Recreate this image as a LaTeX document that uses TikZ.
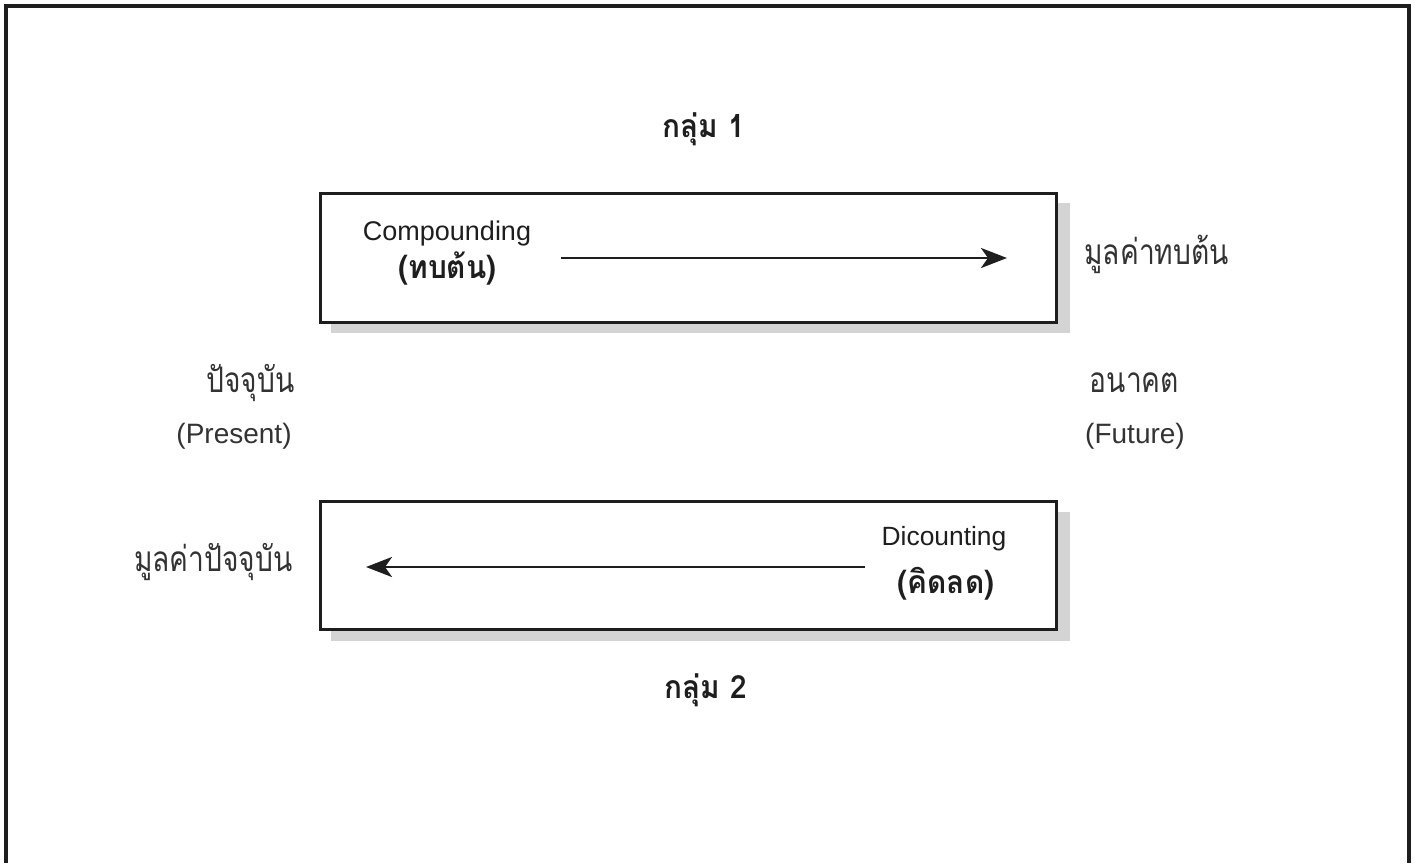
\documentclass[tikz,border=0pt]{standalone}
\usepackage{fontspec}
\setmainfont{Liberation Sans}
\newfontfamily\thai[Script=Thai, FakeStretch=0.8, BoldFeatures={FakeStretch=0.93}]{Loma}
\usetikzlibrary{arrows.meta}
\definecolor{shade}{HTML}{D4D4D4}
\definecolor{ink}{HTML}{1E1E1E}
\definecolor{soft}{HTML}{333333}
\tikzset{
  frame/.style={line width=2pt, draw=ink},
  panel/.style={line width=1.7pt, draw=ink, fill=white},
  panelshadow/.style={fill=shade, draw=none},
  flow/.style={line width=1.4pt, draw=ink, -{Stealth[length=13pt, width=10pt, inset=3.5pt]}},
  head/.style={inner sep=0pt, text=ink, font=\fontsize{13.5}{16}\selectfont},
  headth/.style={inner sep=0pt, text=ink, font=\thai\bfseries\fontsize{16}{18}\selectfont},
  label/.style={inner sep=0pt, text=soft, font=\fontsize{14}{17}\selectfont},
  labelth/.style={inner sep=0pt, text=soft, font=\thai\fontsize{17.6}{20}\selectfont},
}
\begin{document}
\begin{tikzpicture}[x=0.5pt, y=-0.5pt]
\useasboundingbox (0,0) rectangle (1414,863);
% outer frame, open at the bottom
\draw[frame] (6,863) -- (6,6) -- (1408.7,6) -- (1408.7,863);

% group titles
\node[headth, anchor=base] (g1) at (704,137) {กลุ่ม 1};
\node[headth, anchor=base] (g2) at (706,698) {กลุ่ม 2};

% upper panel: compounding
\fill[panelshadow] (331,203) rectangle (1070,333);
\node[panel, minimum width=368pt, minimum height=64.5pt, anchor=north west, inner sep=0pt] (top) at (318.7,191.5) {};
\node[head, anchor=base] (comp) at (447,240) {Compounding};
\node[headth, anchor=base] (compth) at (447.5,278) {(ทบต้น)};
\coordinate (ta) at (561,258);
\coordinate (tb) at (1007,258);
\draw[flow] (ta) -- (tb);
\node[labelth, anchor=base west] (fv) at (1084,264) {มูลค่าทบต้น};

% time labels
\node[labelth, anchor=base east] (now) at (295,392) {ปัจจุบัน};
\node[label, anchor=base east] (nowen) at (292,443) {(Present)};
\node[labelth, anchor=base] (fut) at (1134.5,392) {อนาคต};
\node[label, anchor=base] (futen) at (1135,443) {(Future)};

% lower panel: discounting
\fill[panelshadow] (331,512) rectangle (1070,641);
\node[panel, minimum width=368pt, minimum height=64pt, anchor=north west, inner sep=0pt] (bot) at (318.7,500) {};
\node[head, font=\fontsize{13.2}{15}\selectfont, anchor=base] (disc) at (944,545) {Dicounting};
\node[headth, anchor=base] (discth) at (946,593) {(คิดลด)};
\coordinate (ba) at (865,567);
\coordinate (bb) at (366,567);
\draw[flow] (ba) -- (bb);
\node[labelth, anchor=base east] (pv) at (293,571) {มูลค่าปัจจุบัน};
\end{tikzpicture}
\end{document}
